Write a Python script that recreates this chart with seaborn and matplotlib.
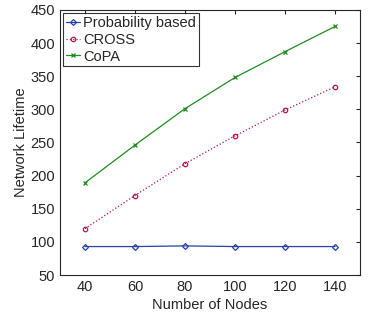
import matplotlib
matplotlib.use("Agg")
import matplotlib.pyplot as plt
import seaborn as sns
import pandas as pd

nodes = [40, 60, 80, 100, 120, 140]
prob_based = [93, 93, 94, 93, 93, 93]
cross = [120, 170, 218, 260, 299, 334]
copa = [189, 246, 301, 348, 387, 425]

sns.set_style("white")
plt.rcParams['font.family'] = ['Liberation Sans', 'DejaVu Sans']

df = pd.DataFrame({
    "Nodes": nodes * 3,
    "Lifetime": prob_based + cross + copa,
    "Method": ["Probability based"] * 6 + ["CROSS"] * 6 + ["CoPA"] * 6,
})

fig = plt.figure(figsize=(3.72, 3.18), dpi=100)
ax = fig.add_axes([0.161, 0.135, 0.807, 0.834])

styles = {
    "Probability based": dict(color="#2840a8", marker="D", ls="-", ms=3),
    "CROSS": dict(color="#b5164e", marker="o", ls=":", ms=3.2),
    "CoPA": dict(color="#1f8c1f", marker="x", ls="-", ms=3.5),
}
for m in ["Probability based", "CROSS", "CoPA"]:
    s = styles[m]
    sub = df[df.Method == m]
    sns.lineplot(data=sub, x="Nodes", y="Lifetime", ax=ax, color=s["color"],
                 linestyle=s["ls"], marker=s["marker"], markersize=s["ms"],
                 markerfacecolor="none", markeredgecolor=s["color"],
                 markeredgewidth=0.9, linewidth=0.9, label=m)

ax.set_xlim(30, 150)
ax.set_ylim(50, 450)
ax.set_xticks(nodes)
ax.set_yticks(range(50, 451, 50))
ax.tick_params(direction="in", top=True, right=True, labelsize=10.5, length=3, colors="#262626")
for sp in ax.spines.values():
    sp.set_color("#262626")
    sp.set_linewidth(0.8)
ax.set_xlabel("Number of Nodes", fontsize=10.5, labelpad=3)
ax.set_ylabel("Network Lifetime", fontsize=10.5, labelpad=2)
leg = ax.legend(loc="upper left", fontsize=10.5, frameon=True, fancybox=False,
                handlelength=1.0, handletextpad=0.2, borderpad=0.2,
                labelspacing=0.2, borderaxespad=0.2)
leg.get_frame().set_edgecolor("black")
leg.get_frame().set_linewidth(0.8)
fig.savefig("out.png", dpi=100)
